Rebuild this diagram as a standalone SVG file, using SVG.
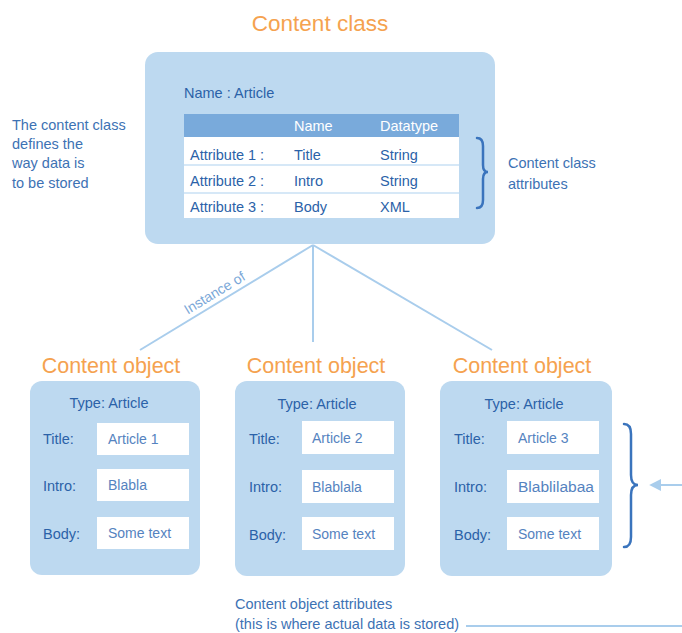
<svg xmlns="http://www.w3.org/2000/svg" width="682" height="633" viewBox="0 0 682 633">
<style>
text{font-family:"Liberation Sans",Arial,sans-serif}
.ttl{fill:#f5a24f;font-size:22.5px}
.obt{fill:#f5a24f;font-size:21.5px}
.dk{fill:#2b62a8;font-size:14.5px}
.lt{fill:#3d72b4;font-size:14.5px}
.hd{fill:#ffffff;font-size:14.5px}
.fv{fill:#5583c0;font-size:14px}
.box{fill:#bdd9f0}
.fld{fill:#ffffff}
.con{stroke:#a9cdec;stroke-width:2;fill:none}
.br{stroke:#3a74bd;stroke-width:2.5;fill:none;stroke-linecap:round}
</style>
<defs>
<marker id="ah" viewBox="0 0 10 10" refX="1" refY="5" markerWidth="6" markerHeight="6" orient="auto-start-reverse">
<path d="M0,0 L10,5 L0,10 z" fill="#a9cdec"/>
</marker>
</defs>
<rect width="682" height="633" fill="#ffffff"/>

<g id="connectors">
<line class="con" x1="313" y1="245" x2="140" y2="350"/>
<line class="con" x1="313" y1="245" x2="313" y2="342"/>
<line class="con" x1="313" y1="245" x2="492" y2="350"/>
<text transform="translate(217,297) rotate(-31)" text-anchor="middle" style="fill:#7aa7d8;font-size:14px">Instance of</text>
<line class="con" x1="682" y1="485" x2="660" y2="485" marker-end="url(#ah)"/>
<line class="con" x1="466" y1="626" x2="682" y2="626"/>
</g>

<g id="class-note">
<text class="lt" x="12" y="130">The content class</text>
<text class="lt" x="12" y="149">defines the</text>
<text class="lt" x="12" y="168">way data is</text>
<text class="lt" x="12" y="188">to be stored</text>
</g>

<g id="content-class">
<text class="ttl" x="320" y="31" text-anchor="middle">Content class</text>
<rect class="box" x="145" y="52" width="350" height="192" rx="13"/>
<text class="dk" x="184" y="98">Name : Article</text>
<rect x="184" y="114" width="275" height="23" fill="#79aadb"/>
<rect x="184" y="137" width="275" height="81" fill="#ffffff"/>
<line x1="184" y1="165" x2="459" y2="165" stroke="#c9e0f4" stroke-width="1.5"/>
<line x1="184" y1="193" x2="459" y2="193" stroke="#c9e0f4" stroke-width="1.5"/>
<text class="hd" x="294" y="131">Name</text>
<text class="hd" x="380" y="131">Datatype</text>
<text class="dk" x="190" y="160">Attribute 1 :</text>
<text class="dk" x="294" y="160">Title</text>
<text class="dk" x="380" y="160">String</text>
<text class="dk" x="190" y="186">Attribute 2 :</text>
<text class="dk" x="294" y="186">Intro</text>
<text class="dk" x="380" y="186">String</text>
<text class="dk" x="190" y="212">Attribute 3 :</text>
<text class="dk" x="294" y="212">Body</text>
<text class="dk" x="380" y="212">XML</text>
</g>

<g id="class-attributes">
<path class="br" d="M477,138 Q483,138 483,146 L483,165 Q483,172 488,172 Q483,172 483,179 L483,200 Q483,208 477,208"/>
<text class="lt" x="508" y="168">Content class</text>
<text class="lt" x="508" y="189">attributes</text>
</g>

<g id="object-1">
<text class="obt" x="111" y="373" text-anchor="middle">Content object</text>
<rect class="box" x="30" y="381" width="170" height="194" rx="12"/>
<text class="dk" x="109" y="408" text-anchor="middle">Type: Article</text>
<text class="dk" x="43" y="444">Title:</text>
<text class="dk" x="43" y="491">Intro:</text>
<text class="dk" x="43" y="539">Body:</text>
<rect class="fld" x="97" y="423" width="92" height="32"/>
<rect class="fld" x="97" y="469" width="92" height="32"/>
<rect class="fld" x="97" y="517" width="92" height="32"/>
<text class="fv" x="108" y="444">Article 1</text>
<text class="fv" x="108" y="490">Blabla</text>
<text class="fv" x="108" y="538">Some text</text>
</g>

<g id="object-2">
<text class="obt" x="316" y="373" text-anchor="middle">Content object</text>
<rect class="box" x="235" y="381" width="170" height="195" rx="12"/>
<text class="dk" x="317" y="409" text-anchor="middle">Type: Article</text>
<text class="dk" x="249" y="444">Title:</text>
<text class="dk" x="249" y="492">Intro:</text>
<text class="dk" x="249" y="540">Body:</text>
<rect class="fld" x="302" y="421" width="92" height="33"/>
<rect class="fld" x="302" y="470" width="92" height="33"/>
<rect class="fld" x="302" y="517" width="92" height="33"/>
<text class="fv" x="312" y="443">Article 2</text>
<text class="fv" x="312" y="492">Blablala</text>
<text class="fv" x="312" y="539">Some text</text>
</g>

<g id="object-3">
<text class="obt" x="522" y="373" text-anchor="middle">Content object</text>
<rect class="box" x="440" y="381" width="172" height="195" rx="12"/>
<text class="dk" x="524" y="409" text-anchor="middle">Type: Article</text>
<text class="dk" x="454" y="444">Title:</text>
<text class="dk" x="454" y="492">Intro:</text>
<text class="dk" x="454" y="540">Body:</text>
<rect class="fld" x="507" y="421" width="92" height="33"/>
<rect class="fld" x="507" y="470" width="92" height="33"/>
<rect class="fld" x="507" y="517" width="92" height="33"/>
<text class="fv" x="518" y="443">Article 3</text>
<text class="fv" x="518" y="492" textLength="76" lengthAdjust="spacingAndGlyphs">Blablilabaa</text>
<text class="fv" x="518" y="539">Some text</text>
</g>

<g id="object-attributes">
<path class="br" d="M624,424 Q631,424 631,434 L631,475 Q631,485 638,485 Q631,485 631,495 L631,537 Q631,547 624,547"/>
<text class="lt" x="235" y="609">Content object attributes</text>
<text class="lt" x="235" y="629">(this is where actual data is stored)</text>
</g>
</svg>
